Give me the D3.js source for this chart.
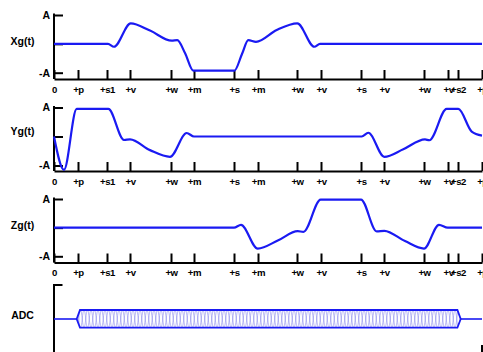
<!DOCTYPE html>
<html>
<head>
<meta charset="utf-8">
<script src="https://cdn.jsdelivr.net/npm/d3@7"></script>
<style>
body { margin: 0; background: #fff; }
text { font-family: "Liberation Sans", Arial, sans-serif; font-weight: bold; }
</style>
</head>
<body>
<script>

let width = 483;
let height = 352;

// time axis ticks (shared by every panel)
let tickTimes = [0, 24, 53, 76, 117, 140, 180, 204, 243, 267, 307, 330, 370, 394, 404, 428];
let tickLabels = ["0", "+p", "+s1", "+v", "+w", "+m", "+s", "+m", "+w", "+v", "+s", "+v", "+w", "+v", "+s2", "+p"];

// gradient waveforms, in units of A
let xgTime = [0, 54, 60, 76.7, 96, 117.7, 123.3, 131, 139.3, 180.3, 188, 194.3, 202, 222.7, 243.3, 260.3, 266, 428];
let xgValue = [0, 0, -0.1, 0.71, 0.46, 0.11, 0.13, -0.32, -0.93, -0.93, -0.35, 0.13, 0.07, 0.48, 0.71, -0.1, 0, 0];

let ygTime = [0, 10, 22.7, 54.3, 70, 76, 96, 116, 132.7, 140, 307.7, 314.3, 330.3, 349.3, 371, 375.3, 392.7, 404.3, 417.7, 428];
let ygValue = [0, -1.15, 0.95, 0.95, -0.12, -0.1, -0.47, -0.7, 0.12, 0, 0, 0.13, -0.7, -0.44, -0.1, -0.13, 0.95, 0.95, 0.17, 0.03];

let zgTime = [0, 180, 187, 203.7, 224.3, 243.7, 249.3, 266.7, 307, 322.7, 330.3, 351, 370, 385, 393.7, 428];
let zgValue = [0, 0, 0.1, -0.73, -0.44, -0.12, -0.15, 0.98, 0.98, -0.13, -0.11, -0.47, -0.73, 0.1, 0, 0];

// ADC readout window
let adcWindow = [22.7, 406.7];

let blue = "#1a1af2";

let xScale = d3.scaleLinear()
	.domain([0, 428])
	.range([54, 482]);

let svg = d3.select("body")
	.append("svg")
		.attr("width", width)
		.attr("height", height);

let panels = [
	{ name: "Xg(t)", time: xgTime, value: xgValue, top: 15, bottom: 72.7, axis: 79, labelY: 42 },
	{ name: "Yg(t)", time: ygTime, value: ygValue, top: 107.5, bottom: 165.5, axis: 171, labelY: 132 },
	{ name: "Zg(t)", time: zgTime, value: zgValue, top: 199, bottom: 256.3, axis: 262.5, labelY: 226.5 }
];

panels.forEach(p => {
	let yScale = d3.scaleLinear()
		.domain([-1, 1])
		.range([p.bottom, p.top]);

	// vertical axis
	svg.append("line")
		.attr("x1", xScale(0)).attr("x2", xScale(0))
		.attr("y1", p.top - 1.5).attr("y2", p.axis)
		.attr("stroke", "#000")
		.attr("stroke-width", 2);

	let yAxis = d3.axisLeft(yScale)
		.tickValues([-1, 0, 1])
		.tickFormat(d => d === 1 ? "A" : d === -1 ? "-A" : "")
		.tickSize(-9)
		.tickPadding(4);

	let gy = svg.append("g")
		.attr("transform", "translate(" + xScale(0) + ",0)")
		.call(yAxis);
	gy.select(".domain").remove();
	gy.selectAll("line").attr("stroke-width", 2);
	gy.selectAll("text")
		.style("font-size", "10.5px")
		.attr("fill", "#000");

	// time axis
	let xAxis = d3.axisBottom(xScale)
		.tickValues(tickTimes)
		.tickFormat((d, i) => tickLabels[i])
		.tickSize(-9)
		.tickSizeOuter(0)
		.tickPadding(7);

	let gx = svg.append("g")
		.attr("transform", "translate(0," + p.axis + ")")
		.call(xAxis);
	gx.select(".domain").attr("stroke-width", 2);
	gx.selectAll("line").attr("stroke-width", 2);
	gx.selectAll("text")
		.style("font-size", "9.6px")
		.style("letter-spacing", "-0.4px")
		.attr("fill", "#000");

	svg.append("text")
		.attr("x", 22.5)
		.attr("y", p.labelY)
		.attr("text-anchor", "middle")
		.attr("dominant-baseline", "middle")
		.style("font-size", "10.5px")
		.text(p.name);

	let line = d3.line()
		.x((d, i) => xScale(p.time[i]))
		.y(d => yScale(d))
		.curve(d3.curveMonotoneX);

	svg.append("path")
		.datum(p.value)
		.attr("d", line)
		.attr("fill", "none")
		.attr("stroke", blue)
		.attr("stroke-width", 2.2);
});

// ADC panel
let adcTop = 310, adcBottom = 327.7, adcMid = 319;
let bevel = 3.3;

svg.append("line")
	.attr("x1", xScale(0)).attr("x2", xScale(0))
	.attr("y1", 284).attr("y2", height)
	.attr("stroke", "#000")
	.attr("stroke-width", 2);
svg.append("line")
	.attr("x1", xScale(0)).attr("x2", xScale(0) + 8.5)
	.attr("y1", 285).attr("y2", 285)
	.attr("stroke", "#000")
	.attr("stroke-width", 2);
svg.append("line")
	.attr("x1", xScale(428)).attr("x2", xScale(428))
	.attr("y1", 345).attr("y2", height)
	.attr("stroke", "#000")
	.attr("stroke-width", 2);

svg.append("text")
	.attr("x", 22.5)
	.attr("y", 316)
	.attr("text-anchor", "middle")
	.attr("dominant-baseline", "middle")
	.style("font-size", "10.5px")
	.text("ADC");

// hatch that fills the readout window
let h = adcBottom - adcTop;
let pat = svg.append("defs").append("pattern")
	.attr("id", "adcHatch")
	.attr("patternUnits", "userSpaceOnUse")
	.attr("x", 0).attr("y", adcTop)
	.attr("width", 7).attr("height", h);
pat.append("path")
	.attr("d", "M0,0 C1.6,0 1.9," + h + " 3.5," + h + " C5.1," + h + " 5.4,0 7,0")
	.attr("fill", "none").attr("stroke", "#8c8cec").attr("stroke-width", 0.6);
pat.append("path")
	.attr("d", "M0," + h + " C1.6," + h + " 1.9,0 3.5,0 C5.1,0 5.4," + h + " 7," + h)
	.attr("fill", "none").attr("stroke", "#8c8cec").attr("stroke-width", 0.6);

let x0 = xScale(adcWindow[0]), x1 = xScale(adcWindow[1]);

svg.append("line")
	.attr("x1", xScale(0)).attr("x2", x0)
	.attr("y1", adcMid).attr("y2", adcMid)
	.attr("stroke", blue).attr("stroke-width", 1.6);
svg.append("line")
	.attr("x1", x1).attr("x2", xScale(428))
	.attr("y1", adcMid).attr("y2", adcMid)
	.attr("stroke", blue).attr("stroke-width", 1.6);

svg.append("path")
	.attr("d", d3.line()([
		[x0, adcMid], [x0 + bevel, adcTop], [x1 - bevel, adcTop],
		[x1, adcMid], [x1 - bevel, adcBottom], [x0 + bevel, adcBottom]
	]) + "Z")
	.attr("fill", "url(#adcHatch)")
	.attr("stroke", blue)
	.attr("stroke-width", 1.8);

</script>
</body>
</html>
